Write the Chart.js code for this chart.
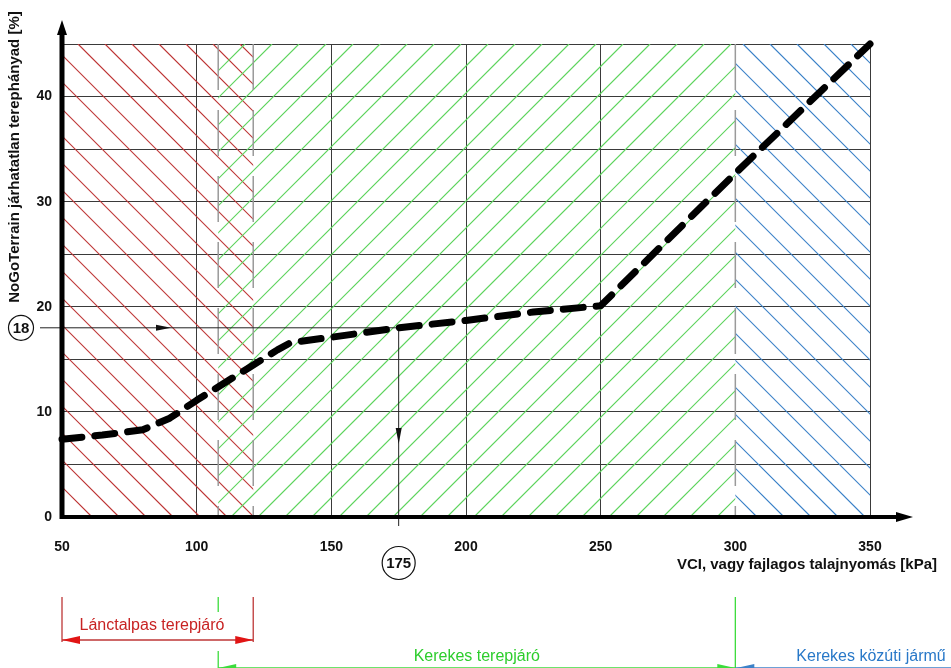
<!DOCTYPE html>
<html><head><meta charset="utf-8">
<script src="https://cdn.jsdelivr.net/npm/chart.js@4.4.0/dist/chart.umd.min.js"></script>
<style>
html,body{margin:0;padding:0;background:#fff;}
#wrap{width:951px;height:668px;position:relative;}
</style></head><body>
<div id="wrap"><canvas id="c"></canvas></div>
<script>
// ── data ──
var vciValues  = [50, 65, 80, 90, 100, 110, 120, 130, 135, 150, 175, 200, 225, 250, 300, 350];
var nogoValues = [7.4, 7.8, 8.3, 9.4, 11.1, 12.7, 14.3, 15.9, 16.6, 17.1, 18.0, 18.7, 19.5, 20.1, 32.7, 45];
var xTicks = [50, 100, 150, 200, 250, 300, 350];
var yTicks = [0, 10, 20, 30, 40];
var zoneNames = ['Lánctalpas terepjáró', 'Kerekes terepjáró', 'Kerekes közúti jármű'];
var zoneFrom  = [50, 108, 300];
var zoneTo    = [121, 300, 350];
var readX = 175, readY = 18;

// ── styles ──
var zoneColors = ['rgb(190,55,55)', 'rgb(95,212,95)', 'rgb(60,130,200)'];
var zoneTextColors = ['rgb(200,35,35)', 'rgb(45,205,45)', 'rgb(40,120,200)'];
var zoneDir = [1, -1, 1];        // 1 = "\"  -1 = "/"
var zoneTopHit = [78, 245, 743]; // where a hatch line meets the top edge
var HATCH = 27;
var FONT = '"Liberation Sans", Arial, sans-serif';

function arrowHead(ctx, x, y, dx, dy, len, half) {
  ctx.beginPath();
  ctx.moveTo(x, y);
  ctx.lineTo(x - dx*len - dy*half, y - dy*len + dx*half);
  ctx.lineTo(x - dx*len + dy*half, y - dy*len - dx*half);
  ctx.closePath();
  ctx.fill();
}

var hatchPlugin = {
  id: 'hatch',
  beforeDatasetsDraw: function(chart) {
    var ctx = chart.ctx, a = chart.chartArea, xs = chart.scales.x;
    var H = a.bottom - a.top;
    ctx.save();
    for (var i = 0; i < zoneFrom.length; i++) {
      var x1 = xs.getPixelForValue(zoneFrom[i]), x2 = xs.getPixelForValue(zoneTo[i]);
      ctx.save();
      ctx.beginPath(); ctx.rect(x1, a.top, x2 - x1, H); ctx.clip();
      ctx.strokeStyle = zoneColors[i]; ctx.lineWidth = 1.2;
      ctx.beginPath();
      for (var k = -60; k <= 60; k++) {
        var t = zoneTopHit[i] + k*HATCH;
        if (t < x1 - H - 30 || t > x2 + H + 30) continue;
        ctx.moveTo(t, a.top);
        ctx.lineTo(t + zoneDir[i]*H, a.bottom);
      }
      ctx.stroke();
      ctx.restore();
    }
    // dashed zone borders
    ctx.strokeStyle = '#9a9a9a'; ctx.lineWidth = 1.5; ctx.setLineDash([46, 20]);
    [zoneFrom[1], zoneTo[0], zoneFrom[2]].forEach(function(v) {
      var px = xs.getPixelForValue(v);
      ctx.beginPath(); ctx.moveTo(px, a.top); ctx.lineTo(px, a.bottom); ctx.stroke();
    });
    ctx.setLineDash([]);
    // reading guide lines
    var gx = xs.getPixelForValue(readX), gy = chart.scales.y.getPixelForValue(readY);
    ctx.strokeStyle = '#222'; ctx.fillStyle = '#111'; ctx.lineWidth = 1;
    ctx.beginPath(); ctx.moveTo(40, gy); ctx.lineTo(gx, gy); ctx.lineTo(gx, a.bottom + 9); ctx.stroke();
    arrowHead(ctx, 171, gy, 1, 0, 15, 3);
    arrowHead(ctx, gx, 444, 0, 1, 16, 3);
    ctx.restore();
  },
  afterDatasetsDraw: function(chart) {
    var ctx = chart.ctx, a = chart.chartArea, xs = chart.scales.x, ys = chart.scales.y;
    ctx.save();
    // axes
    ctx.strokeStyle = '#000'; ctx.fillStyle = '#000'; ctx.lineWidth = 5;
    ctx.beginPath(); ctx.moveTo(a.left, a.bottom + 2); ctx.lineTo(a.left, 32); ctx.stroke();
    arrowHead(ctx, a.left, 20, 0, -1, 15, 5);
    ctx.lineWidth = 4;
    ctx.beginPath(); ctx.moveTo(a.left - 2, a.bottom); ctx.lineTo(900, a.bottom); ctx.stroke();
    arrowHead(ctx, 913, a.bottom, 1, 0, 17, 5);

    // circles
    var gx = xs.getPixelForValue(readX), gy = ys.getPixelForValue(readY);
    ctx.lineWidth = 1.2; ctx.strokeStyle = '#111'; ctx.fillStyle = '#fff';
    ctx.beginPath(); ctx.arc(21, gy, 12.5, 0, Math.PI*2); ctx.fill(); ctx.stroke();
    ctx.beginPath(); ctx.arc(gx, 563, 16.5, 0, Math.PI*2); ctx.fill(); ctx.stroke();
    ctx.fillStyle = '#111'; ctx.textAlign = 'center'; ctx.textBaseline = 'middle';
    ctx.font = 'bold 15px ' + FONT;
    ctx.fillText(String(readY), 21, gy + 1);
    ctx.fillText(String(readX), gx, 564);

    // axis titles
    ctx.font = 'bold 15px ' + FONT;
    ctx.textAlign = 'right';
    ctx.fillText('VCI, vagy fajlagos talajnyomás [kPa]', 937, 565);
    ctx.save();
    ctx.translate(15, 157); ctx.rotate(-Math.PI/2);
    ctx.textAlign = 'center';
    ctx.fillText('NoGoTerrain járhatatlan terephányad [%]', 0, 0);
    ctx.restore();

    // vehicle range annotations
    ctx.textAlign = 'center';
    var r1 = xs.getPixelForValue(zoneFrom[0]), r2 = xs.getPixelForValue(zoneTo[0]);
    var g1 = xs.getPixelForValue(zoneFrom[1]), g2 = xs.getPixelForValue(zoneTo[1]);
    ctx.lineWidth = 1.3;
    ctx.strokeStyle = zoneColors[0]; ctx.fillStyle = 'rgb(225,20,20)';
    ctx.beginPath();
    ctx.moveTo(r1, 597); ctx.lineTo(r1, 642);
    ctx.moveTo(r2, 597); ctx.lineTo(r2, 642);
    ctx.moveTo(r1, 640); ctx.lineTo(r2, 640);
    ctx.stroke();
    arrowHead(ctx, r1, 640, -1, 0, 18, 4);
    arrowHead(ctx, r2, 640, 1, 0, 18, 4);
    ctx.font = '16px ' + FONT;
    ctx.fillStyle = zoneTextColors[0];
    ctx.fillText(zoneNames[0], 152, 626);

    ctx.strokeStyle = 'rgb(60,220,60)'; ctx.fillStyle = 'rgb(60,220,60)';
    ctx.beginPath();
    ctx.moveTo(g1, 597); ctx.lineTo(g1, 612);
    ctx.moveTo(g1, 651); ctx.lineTo(g1, 668);
    ctx.moveTo(g2, 597); ctx.lineTo(g2, 668);
    ctx.moveTo(g1, 668); ctx.lineTo(g2, 668);
    ctx.stroke();
    arrowHead(ctx, g1, 668, -1, 0, 18, 4);
    arrowHead(ctx, g2, 668, 1, 0, 18, 4);
    ctx.fillStyle = zoneTextColors[1];
    ctx.fillText(zoneNames[1], (g1 + g2)/2, 657);

    ctx.strokeStyle = zoneColors[2]; ctx.fillStyle = zoneColors[2];
    ctx.beginPath(); ctx.moveTo(g2, 668); ctx.lineTo(951, 668); ctx.stroke();
    arrowHead(ctx, g2 + 1, 668, -1, 0, 18, 4);
    ctx.fillStyle = zoneTextColors[2];
    ctx.fillText(zoneNames[2], 871, 657);
    ctx.restore();
  }
};

var tickFont = {family: FONT, size: 14, weight: 'bold'};

new Chart(document.getElementById('c'), {
  type: 'line',
  data: {
    datasets: [{
      label: 'NoGoTerrain',
      data: vciValues.map(function(v, i){ return {x: v, y: nogoValues[i]}; }),
      borderColor: '#000',
      borderWidth: 7,
      borderDash: [20, 13],
      borderCapStyle: 'round',
      borderJoinStyle: 'round',
      pointRadius: 0,
      tension: 0,
      clip: false
    }]
  },
  options: {
    responsive: true, maintainAspectRatio: false, animation: false,
    layout: {padding: {top: 44, right: 81, left: 0, bottom: 0}},
    plugins: {legend: {display: false}, tooltip: {enabled: false}},
    scales: {
      x: {
        type: 'linear', min: 50, max: 350,
        afterBuildTicks: function(s){ s.ticks = xTicks.map(function(v){ return {value: v}; }); },
        afterFit: function(s){ s.height = 151; },
        border: {display: false},
        grid: {
          drawTicks: false, lineWidth: 1,
          color: function(c){ var v = c.tick && c.tick.value; return (v === 50 || v === 300) ? 'rgba(0,0,0,0)' : '#3a3a3a'; }
        },
        ticks: {padding: 22, color: '#111', font: tickFont, maxRotation: 0, autoSkip: false}
      },
      y: {
        min: 0, max: 45,
        ticks: {
          stepSize: 5, padding: 10, color: '#111', font: tickFont, autoSkip: false,
          callback: function(v){ return yTicks.indexOf(v) >= 0 ? v : ''; }
        },
        afterFit: function(s){ s.width = 62; },
        border: {display: false},
        grid: {
          drawTicks: false, lineWidth: 1,
          color: function(c){ var v = c.tick && c.tick.value; return v === 0 ? 'rgba(0,0,0,0)' : '#3a3a3a'; }
        }
      }
    }
  },
  plugins: [hatchPlugin]
});
</script>
</body></html>
